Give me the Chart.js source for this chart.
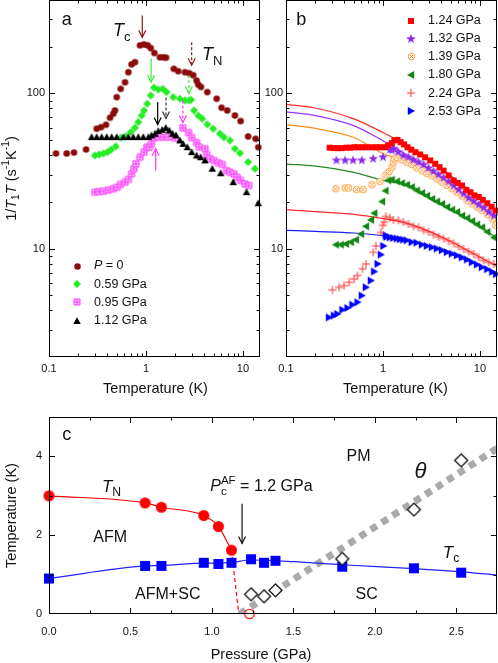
<!DOCTYPE html>
<html>
<head>
<meta charset="utf-8">
<script src="https://cdn.jsdelivr.net/npm/chart.js@4.4.1/dist/chart.umd.min.js"></script>
<style>
  html, body { margin: 0; padding: 0; background: #fff; }
  #wrap { position: relative; width: 498px; height: 663px; overflow: hidden; }
  canvas { position: absolute; }
</style>
</head>
<body>
<div id="wrap">
  <canvas id="ca" width="262" height="400" style="left:0;top:0"></canvas>
  <canvas id="cb" width="236" height="400" style="left:262px;top:0"></canvas>
  <canvas id="cc" width="498" height="263" style="left:0;top:400px"></canvas>
</div>
<script>
// ---- panel a : 1/T1T vs T, low pressures ----
const aP0T = [0.118, 0.152, 0.181, 0.241, 0.310, 0.344, 0.387, 0.426, 0.46, 0.479, 0.499, 0.548, 0.608, 0.658, 0.711, 0.77, 0.867, 0.954, 1.04, 1.12, 1.22, 1.39, 1.51, 1.61, 1.94, 2.15, 2.52, 2.79, 3.07, 3.33, 3.46, 3.69, 4.29, 5.36, 6.03, 6.89, 8.27, 9.46, 11.3, 13.5, 14.4];
const aP0V = [41, 41, 41.6, 43.5, 59.2, 60.6, 62.8, 69.7, 74, 77.6, 94.6, 107, 118, 137, 154, 159, 204, 207, 204, 196, 182, 171, 171, 170, 144, 139, 137, 135, 131, 121, 114, 110, 102, 92.4, 80.9, 77.6, 72.1, 66.3, 52.8, 51, 45];

const a059T = [0.298, 0.328, 0.363, 0.399, 0.436, 0.487, 0.548, 0.622, 0.695, 0.77, 0.833, 0.903, 0.954, 1.03, 1.12, 1.21, 1.34, 1.49, 1.63, 1.91, 2.24, 2.52, 2.77, 2.91, 3.13, 3.46, 3.8, 4.29, 4.94, 5.79, 6.37, 7.34, 8.27, 9.31, 11.3, 13.3];
const a059V = [39.8, 40.4, 41, 41.8, 43.4, 45.5, 51.8, 52.8, 56.3, 60.1, 65.3, 72.1, 77.6, 85.8, 97, 109, 106, 107, 102, 94.6, 92.4, 90.1, 90.1, 91, 77.6, 72.1, 68.7, 63.1, 59.2, 55, 52.2, 49.8, 44, 41.2, 36.1, 32.7];

const a095T = [0.298, 0.328, 0.363, 0.409, 0.46, 0.506, 0.548, 0.608, 0.658, 0.711, 0.752, 0.789, 0.867, 0.954, 1.02, 1.08, 1.14, 1.22, 1.35, 1.51, 1.7, 1.99, 2.4, 2.75, 2.96, 3.33, 3.53, 4.06, 4.23, 4.57, 5.02, 5.57, 6.12, 6.79, 7.34, 8.07, 8.73, 9.46, 10.5, 11.5];
const a095V = [23.1, 23.3, 23.4, 23.8, 24.3, 24.9, 25.9, 26.8, 27.9, 30.3, 32.7, 35.2, 38.8, 41.8, 45, 45, 47.3, 51.8, 52.3, 52.3, 52.3, 51.5, 60, 55.9, 51.9, 48.2, 45.2, 44, 40.3, 37.9, 37, 35.7, 34.8, 31.8, 31, 30.3, 28.8, 27.5, 26.1, 25.5];

const a112T = [0.275, 0.31, 0.349, 0.394, 0.443, 0.499, 0.584, 0.658, 0.74, 0.833, 0.938, 1.06, 1.14, 1.24, 1.34, 1.47, 1.6, 1.74, 1.88, 2.04, 2.24, 2.42, 2.67, 2.96, 3.33, 3.66, 4.06, 4.83, 5.89, 7.94, 10.9, 14.4];
const a112V = [52.3, 52.3, 52.3, 52.3, 52.3, 52.3, 52.3, 52.3, 52.3, 52.3, 52.3, 52.3, 53.6, 55, 57.2, 58.3, 60, 57.7, 55, 53.6, 49.8, 47.3, 45, 41.8, 39.8, 38.8, 37, 32.7, 30.6, 26.8, 23.1, 19.6];

// ---- panel b : higher pressures ----
const b124T = [0.282, 0.311, 0.339, 0.373, 0.421, 0.463, 0.505, 0.555, 0.611, 0.678, 0.764, 0.846, 0.931, 1.05, 1.13, 1.23, 1.31, 1.41, 1.52, 1.65, 1.79, 1.96, 2.16, 2.42, 2.72, 3.07, 3.46, 3.83, 4.22, 4.75, 5.36, 5.89, 6.54, 7.24, 7.97, 8.77, 9.72, 10.7, 11.9, 13.2, 14.5];
const b124V = [44.7, 44.4, 44.4, 44.4, 44.7, 44.7, 45, 45, 45, 45, 45, 45, 45, 45, 46.3, 47.8, 49.8, 50.2, 48.5, 46.9, 45, 43.4, 41.8, 40.4, 38.8, 37, 35.2, 33.5, 31.8, 29.6, 27.5, 26.5, 25.5, 23.9, 23.1, 22, 21.5, 20.6, 19.6, 18.6, 17.6];

const b132T = [0.331, 0.407, 0.492, 0.605, 0.793, 1.0, 1.18, 1.24, 1.30, 1.44, 1.62, 1.83, 2.06, 2.32, 2.62, 2.95, 3.32, 3.74, 4.22, 4.75, 5.36, 6.03, 6.79, 7.65, 8.62, 9.72, 10.9, 12.3, 13.9];
const b132V = [37, 37, 37, 37, 37.9, 38.8, 43.4, 43, 44, 41.8, 39.8, 38.8, 37.3, 36, 34.7, 33, 31.5, 30, 28.6, 27.1, 25.5, 24, 22.6, 21.2, 20.2, 19.2, 18.3, 17.2, 16.3];

const b139T = [0.326, 0.407, 0.441, 0.534, 0.625, 0.769, 0.931, 1.07, 1.16, 1.24, 1.28, 1.31, 1.39, 1.56, 1.76, 1.98, 2.23, 2.52, 2.84, 3.2, 3.6, 4.06, 4.57, 5.15, 5.8, 6.54, 7.37, 8.29, 9.34, 10.5, 11.9, 13.4, 14.5];
const b139V = [24.3, 24.6, 24.6, 24, 24, 25.8, 27.1, 29.8, 31.4, 33.5, 36, 37.9, 38.8, 37.3, 36, 34.8, 33.2, 31.8, 30.5, 29.4, 28.1, 26.8, 25.5, 24.3, 23.1, 21.8, 20.4, 19.4, 18.5, 17.6, 16.6, 15.5, 14.1];

const b180T = [0.326, 0.367, 0.414, 0.466, 0.525, 0.592, 0.667, 0.751, 0.813, 0.976, 1.06, 1.13, 1.23, 1.39, 1.56, 1.76, 1.98, 2.23, 2.52, 2.84, 3.2, 3.6, 4.06, 4.57, 5.15, 5.8, 6.54, 7.37, 8.29, 9.34, 10.5, 11.9, 13.9];
const b180V = [10.6, 10.6, 10.7, 11.0, 11.4, 12.4, 13.9, 15.3, 16.9, 20.1, 23.6, 27.5, 27.8, 27.1, 26.4, 25.8, 24.9, 23.7, 22.8, 21.9, 20.9, 20.1, 19.4, 18.5, 17.8, 17.2, 16.3, 15.7, 15, 14.3, 13.7, 12.8, 11.8];

const b224T = [0.301, 0.353, 0.397, 0.448, 0.504, 0.547, 0.616, 0.667, 0.794, 0.846, 0.953, 0.993, 1.03, 1.07, 1.18, 1.28, 1.44, 1.62, 1.83, 2.06, 2.32, 2.62, 2.95, 3.32, 3.74, 4.22, 4.75, 5.36, 6.03, 6.79, 7.65, 8.62, 9.72, 10.9, 12.3, 13.9];
const b224V = [5.42, 5.62, 5.77, 6.06, 6.37, 6.7, 7.4, 7.96, 9.46, 10.4, 12.7, 14.1, 14.8, 16.1, 15.8, 15.3, 15.2, 14.8, 14.4, 13.9, 13.7, 13.1, 12.8, 12.3, 11.9, 11.6, 11.2, 10.8, 10.3, 9.94, 9.56, 9.23, 8.78, 8.38, 8.16, 7.96];

const b253T = [0.278, 0.313, 0.339, 0.382, 0.431, 0.485, 0.547, 0.606, 0.667, 0.751, 0.813, 0.881, 0.953, 1.01, 1.07, 1.09, 1.18, 1.28, 1.39, 1.5, 1.62, 1.76, 1.98, 2.23, 2.52, 2.84, 3.2, 3.6, 4.06, 4.57, 5.15, 5.8, 6.54, 7.37, 8.29, 9.34, 10.5, 11.9, 13.4, 14.7];
const b253V = [3.6, 3.7, 3.79, 4.03, 4.14, 4.35, 4.51, 4.98, 5.63, 6.22, 7.11, 7.96, 9.14, 10.4, 12.2, 11.9, 11.8, 11.7, 11.6, 11.5, 11.4, 11.3, 11.0, 10.9, 10.6, 10.4, 10.2, 10.0, 9.76, 9.48, 9.26, 9.04, 8.76, 8.5, 8.16, 7.89, 7.58, 7.36, 7.07, 6.84];

// fit curves of panel b, read at these temperatures
const fitT = [0.1, 0.2, 0.5, 1, 1.5, 2, 3, 5, 10, 15];
const fit124 = [85, 80.5, 68.5, 56, 49, 44, 37.5, 29.5, 21, 17.6];
const fit132 = [76, 72, 62, 49.5, 42.5, 38, 32.5, 26, 19, 16];
const fit139 = [63, 59.5, 52, 41, 37.5, 34.5, 29.8, 24.4, 17.6, 14.8];
const fit180 = [35, 34, 31, 27.5, 26.3, 25, 21.5, 18, 14, 11.6];
const fit224 = [17.8, 17.3, 16.6, 15.6, 14.9, 14.2, 12.9, 11.1, 8.8, 7.7];
const fit253 = [13.1, 12.9, 12.6, 12.1, 11.6, 11.1, 10.3, 9.2, 7.7, 6.8];

// ---- panel c : phase diagram ----
const tnP = [0, 0.59, 0.69, 0.95, 1.04, 1.12];
const tnT = [3.0, 2.82, 2.71, 2.50, 2.22, 1.62];
const tnDashP = [1.12, 1.165];
const tnDashT = [1.62, 0];
const tnZeroP = [1.23];
const tnZeroT = [0];
const tcP = [0, 0.59, 0.69, 0.95, 1.04, 1.12, 1.24, 1.32, 1.39, 1.80, 2.24, 2.53];
const tcT = [0.90, 1.22, 1.22, 1.30, 1.27, 1.30, 1.39, 1.30, 1.35, 1.20, 1.16, 1.05];
const tcLineP = [0, 0.59, 0.69, 0.95, 1.04, 1.12, 1.24, 1.5, 1.8, 2.24, 2.53, 2.75];
const tcLineT = [0.90, 1.22, 1.23, 1.29, 1.29, 1.31, 1.37, 1.33, 1.25, 1.15, 1.07, 0.99];
const thetaP = [1.24, 1.32, 1.39, 1.80, 2.24, 2.53];
const thetaT = [0.5, 0.45, 0.6, 1.4, 2.65, 3.9];
const thetaLineP = [1.17, 2.75];
const thetaLineT = [0, 4.2];

const FONT = '"Liberation Sans", Arial, Helvetica, sans-serif';
Chart.defaults.font.family = FONT;
Chart.defaults.color = '#111';

// small canvases used as point markers (and legend symbols)
function marker(kind, size, fill, stroke, lw) {
  const n = Math.ceil(size) + 4;
  const c = document.createElement('canvas');
  c.width = n; c.height = n;
  const g = c.getContext('2d');
  const m = n / 2, r = size / 2;
  g.lineWidth = lw || 1;
  g.fillStyle = fill; g.strokeStyle = stroke || fill;
  g.beginPath();
  if (kind === 'circle') {
    g.arc(m, m, r, 0, Math.PI * 2);
  } else if (kind === 'square' || kind === 'hash') {
    g.rect(m - r, m - r, size, size);
  } else if (kind === 'diamond') {
    g.moveTo(m, m - r); g.lineTo(m + r, m); g.lineTo(m, m + r); g.lineTo(m - r, m); g.closePath();
  } else if (kind === 'triUp') {
    g.moveTo(m, m - r); g.lineTo(m + r, m + r * 0.8); g.lineTo(m - r, m + r * 0.8); g.closePath();
  } else if (kind === 'triLeft') {
    g.moveTo(m - r, m); g.lineTo(m + r * 0.8, m - r); g.lineTo(m + r * 0.8, m + r); g.closePath();
  } else if (kind === 'triRight') {
    g.moveTo(m + r, m); g.lineTo(m - r * 0.8, m - r); g.lineTo(m - r * 0.8, m + r); g.closePath();
  } else if (kind === 'star') {
    for (let i = 0; i < 10; i++) {
      const a = -Math.PI / 2 + i * Math.PI / 5, rr = i % 2 ? r * 0.42 : r;
      g.lineTo(m + rr * Math.cos(a), m + rr * Math.sin(a));
    }
    g.closePath();
  }
  if (kind === 'plus') {
    g.moveTo(m - r, m); g.lineTo(m + r, m); g.moveTo(m, m - r); g.lineTo(m, m + r);
    g.stroke();
  } else if (kind === 'circleX') {
    g.arc(m, m, r, 0, Math.PI * 2); g.fill(); g.stroke();
    const d = r * 0.6;
    g.beginPath();
    g.moveTo(m - d, m - d); g.lineTo(m + d, m + d); g.moveTo(m + d, m - d); g.lineTo(m - d, m + d);
    g.stroke();
  } else if (kind === 'hash') {
    g.fill(); g.stroke();
    g.beginPath();
    g.moveTo(m, m - r); g.lineTo(m, m + r); g.moveTo(m - r, m); g.lineTo(m + r, m);
    g.stroke();
  } else {
    g.fill();
    if (stroke) g.stroke();
  }
  return c;
}

const mkP0 = marker('circle', 6.5, '#8b0a0a');
const mk059 = marker('diamond', 8, '#22ee22');
const mk095 = marker('hash', 6, '#ffd0ff', '#ff33ff', 1);
const mk112 = marker('triUp', 7.5, '#000000');
const mk124 = marker('square', 6, '#ff0000');
const mk132 = marker('star', 10, '#8c2bea');
const mk139 = marker('circleX', 6.5, '#ffffff', '#ff9933', 1);
const mk180 = marker('triLeft', 8, '#118811');
const mk224 = marker('plus', 8, '#ff3333', '#ff3333', 1);
const mk253 = marker('triRight', 8, '#0000ff');
const mkTN = marker('circle', 11, '#ff0000');
const mkTN0 = marker('circle', 9.5, '#ffffff', '#ff0000', 1.2);
const mkTC = marker('square', 10, '#0000ff');
const mkTH = marker('diamond', 13, '#ffffff', '#000000', 1.2);

function pts(xs, ys) { return xs.map((v, i) => ({ x: v, y: ys[i] })); }
function dots(xs, ys, img, order) {
  return { data: pts(xs, ys), pointStyle: img, pointRadius: 5, showLine: false, clip: false, order: order || 0 };
}
function curve(xs, ys, color, width, extra) {
  return Object.assign({ data: pts(xs, ys), showLine: true, borderColor: color, borderWidth: width,
    pointRadius: 0, fill: false, cubicInterpolationMode: 'monotone', order: 5 }, extra || {});
}

function axis(type, min, max, labels, fmt, isX, size, pad) {
  return {
    type, min, max, position: isX ? 'bottom' : 'left',
    grid: { display: false, drawTicks: false }, border: { display: false },
    ticks: { autoSkip: false, maxRotation: 0, padding: pad, font: { size: 11 }, color: '#111', callback: fmt },
    afterBuildTicks: s => { s.ticks = labels.map(v => ({ value: v })); },
    afterFit: s => {
      if (isX) s.height = size; else s.width = size;
      s.paddingLeft = 0; s.paddingRight = 0; s.paddingTop = 0; s.paddingBottom = 0;
    }
  };
}

function logMinors(min, max) {
  const out = [];
  for (let d = 0.01; d < 5000; d *= 10) {
    for (let k = 2; k <= 9; k++) {
      const v = +(d * k).toPrecision(3);
      if (v > min && v < max) out.push(v);
    }
  }
  return out;
}

// rich text: segments of [text, flags]; i italic, b subscript, p superscript, n no advance
function segFont(f, size) {
  const s = (f.includes('b') || f.includes('p')) ? size * 0.72 : size;
  return (f.includes('i') ? 'italic ' : '') + s.toFixed(1) + 'px ' + FONT;
}
function richWidth(ctx, segs, size) {
  let w = 0;
  segs.forEach(([t, f = '']) => { ctx.font = segFont(f, size); if (!f.includes('n')) w += ctx.measureText(t).width; });
  return w;
}
function drawRich(ctx, segs, x, y, size, align) {
  const w = richWidth(ctx, segs, size);
  let cx = align === 'center' ? x - w / 2 : x;
  ctx.textAlign = 'left';
  segs.forEach(([t, f = '']) => {
    ctx.font = segFont(f, size);
    const dy = f.includes('b') ? size * 0.26 : (f.includes('p') ? -size * 0.4 : 0);
    ctx.fillText(t, cx, y + dy);
    if (!f.includes('n')) cx += ctx.measureText(t).width;
  });
}

const extras = {
  id: 'extras',
  afterDatasetsDraw(chart, args, o) {
    const { ctx, chartArea: a, scales: { x, y } } = chart;
    ctx.save();
    // inward ticks on all four sides, then the frame
    ctx.strokeStyle = '#000';
    ctx.lineWidth = 1;
    ctx.beginPath();
    const tx = (list, len) => list.forEach(v => {
      const p = Math.round(x.getPixelForValue(v)) + 0.5;
      ctx.moveTo(p, a.bottom); ctx.lineTo(p, a.bottom - len);
      ctx.moveTo(p, a.top); ctx.lineTo(p, a.top + len);
    });
    const ty = (list, len) => list.forEach(v => {
      const p = Math.round(y.getPixelForValue(v)) + 0.5;
      ctx.moveTo(a.left, p); ctx.lineTo(a.left + len, p);
      ctx.moveTo(a.right, p); ctx.lineTo(a.right - len, p);
    });
    tx(o.xMajor, 6); tx(o.xMinor, 3.5); ty(o.yMajor, 6); ty(o.yMinor, 3.5);
    ctx.stroke();
    ctx.strokeRect(a.left + 0.5, a.top + 0.5, a.right - a.left - 1, a.bottom - a.top - 1);

    // arrows
    (o.arrows || []).forEach(ar => {
      const px = x.getPixelForValue(ar.x), p1 = y.getPixelForValue(ar.y1), p2 = y.getPixelForValue(ar.y2);
      const dir = p2 > p1 ? 1 : -1;
      ctx.strokeStyle = ar.color; ctx.lineWidth = 1.2;
      ctx.setLineDash(ar.dash ? [3, 2] : []);
      ctx.beginPath(); ctx.moveTo(px, p1); ctx.lineTo(px, p2); ctx.stroke();
      ctx.setLineDash([]);
      ctx.beginPath();
      ctx.moveTo(px - 3.5, p2 - dir * 7); ctx.lineTo(px, p2); ctx.lineTo(px + 3.5, p2 - dir * 7);
      ctx.stroke();
    });

    // text labels in data coordinates
    ctx.fillStyle = '#111';
    (o.texts || []).forEach(t => {
      ctx.textBaseline = t.base || 'middle';
      drawRich(ctx, t.segs, x.getPixelForValue(t.x), y.getPixelForValue(t.y), t.size, t.align || 'left');
    });

    // legend
    if (o.legend) {
      const L = o.legend;
      L.items.forEach((it, i) => {
        const mx = a.left + L.dx, my = a.top + L.dy + i * L.step;
        ctx.drawImage(it.img, Math.round(mx - it.img.width / 2), Math.round(my - it.img.height / 2));
        ctx.textBaseline = 'middle';
        drawRich(ctx, it.segs, mx + 17, my, 12.5, 'left');
      });
    }

    // axis titles
    ctx.textBaseline = 'middle';
    if (o.xTitle) drawRich(ctx, o.xTitle, (a.left + a.right) / 2 + o.xTitleDx, o.xTitleY, 14.5, 'center');
    if (o.yTitle) {
      ctx.translate(12, (a.top + a.bottom) / 2);
      ctx.rotate(-Math.PI / 2);
      drawRich(ctx, o.yTitle, 0, 0, 14.5, 'center');
    }
    ctx.restore();
  }
};
Chart.register(extras);

const tempTitle = [['Temperature (K)']];
const fmtLog = v => String(v);

function baseOptions(scales, extraOpts) {
  return {
    responsive: false, animation: false, devicePixelRatio: 1, events: [],
    layout: { padding: extraOpts.padding, autoPadding: false },
    plugins: { legend: { display: false }, tooltip: { enabled: false }, extras: extraOpts.extras },
    scales
  };
}

// ---------- chart a ----------
new Chart(document.getElementById('ca'), {
  type: 'scatter',
  data: {
    datasets: [
      dots(a112T, a112V, mk112, 1),
      dots(a095T, a095V, mk095, 2),
      dots(a059T, a059V, mk059, 3),
      dots(aP0T, aP0V, mkP0, 4)
    ]
  },
  options: baseOptions({
    x: axis('logarithmic', 0.1, 15, [0.1, 1, 10], fmtLog, true, 43, 5),
    y: axis('logarithmic', 2, 400, [10, 100], fmtLog, false, 49, 4)
  }, {
    padding: { left: 0, top: 0, right: 2, bottom: 0 },
    extras: {
      xMajor: [1, 10], xMinor: logMinors(0.1, 15), yMajor: [10, 100], yMinor: logMinors(2, 400),
      arrows: [
        { x: 0.916, y1: 318, y2: 230, color: '#8b1a1a', dash: false },
        { x: 2.96, y1: 214, y2: 152, color: '#8b1a1a', dash: true },
        { x: 1.13, y1: 168, y2: 118, color: '#33ee33', dash: false },
        { x: 2.77, y1: 131, y2: 100, color: '#33ee33', dash: true },
        { x: 1.32, y1: 88, y2: 63, color: '#000000', dash: false },
        { x: 1.61, y1: 94, y2: 69, color: '#333333', dash: true },
        { x: 2.40, y1: 90, y2: 65, color: '#ff33ff', dash: true },
        { x: 1.26, y1: 31.8, y2: 44, color: '#ff33ff', dash: false }
      ],
      texts: [
        { x: 0.152, y: 296, segs: [['a']], size: 18, align: 'center' },
        { x: 0.457, y: 233, segs: [['T', 'i'], ['c', 'b']], size: 18, base: 'alphabetic' },
        { x: 3.78, y: 163, segs: [['T', 'i'], ['N', 'b']], size: 18, base: 'alphabetic' }
      ],
      legend: {
        dx: 28, dy: 266, step: 18.2,
        items: [
          { img: mkP0, segs: [['P', 'i'], [' = 0']] },
          { img: mk059, segs: [['0.59 GPa']] },
          { img: mk095, segs: [['0.95 GPa']] },
          { img: mk112, segs: [['1.12 GPa']] }
        ]
      },
      xTitle: tempTitle, xTitleDx: 1, xTitleY: 389,
      yTitle: [['1/'], ['T', 'i'], ['1', 'b'], ['T', 'i'], [' (s'], ['-1', 'p'], ['K'], ['-1', 'p'], [')']]
    }
  })
});

// ---------- chart b ----------
new Chart(document.getElementById('cb'), {
  type: 'scatter',
  data: {
    datasets: [
      dots(b124T, b124V, mk124, 1),
      dots(b132T, b132V, mk132, 2),
      dots(b139T, b139V, mk139, 3),
      dots(b180T, b180V, mk180, 1),
      dots(b224T, b224V, mk224, 1),
      dots(b253T, b253V, mk253, 1),
      curve(fitT, fit124, '#ff2a2a', 1.2),
      curve(fitT, fit132, '#9933ff', 1.2),
      curve(fitT, fit139, '#ff8c1a', 1.2),
      curve(fitT, fit180, '#228b22', 1.2),
      curve(fitT, fit224, '#ff2a2a', 1.2),
      curve(fitT, fit253, '#1a1aff', 1.2)
    ]
  },
  options: baseOptions({
    x: axis('logarithmic', 0.1, 15, [0.1, 1, 10], fmtLog, true, 43, 5),
    y: axis('logarithmic', 2, 400, [10, 100], fmtLog, false, 24, 3)
  }, {
    padding: { left: 0, top: 0, right: 1, bottom: 0 },
    extras: {
      xMajor: [1, 10], xMinor: logMinors(0.1, 15), yMajor: [10, 100], yMinor: logMinors(2, 400),
      texts: [
        { x: 0.144, y: 296, segs: [['b']], size: 18, align: 'center' }
      ],
      legend: {
        dx: 125, dy: 20.7, step: 18.1,
        items: [
          { img: mk124, segs: [['1.24 GPa']] },
          { img: mk132, segs: [['1.32 GPa']] },
          { img: mk139, segs: [['1.39 GPa']] },
          { img: mk180, segs: [['1.80 GPa']] },
          { img: mk224, segs: [['2.24 GPa']] },
          { img: mk253, segs: [['2.53 GPa']] }
        ]
      },
      xTitle: tempTitle, xTitleDx: 4, xTitleY: 389
    }
  })
});

// ---------- chart c ----------
new Chart(document.getElementById('cc'), {
  type: 'scatter',
  data: {
    datasets: [
      dots(thetaP, thetaT, mkTH, 1),
      dots(tnP, tnT, mkTN, 1),
      dots(tcP, tcT, mkTC, 1),
      dots(tnZeroP, tnZeroT, mkTN0, 1),
      curve(tnP, tnT, '#ff0000', 1.2, { order: 4 }),
      curve(tnDashP, tnDashT, '#ff0000', 1.2, { borderDash: [4, 3], order: 4 }),
      curve(tcLineP, tcLineT, '#2222ff', 1.2, { order: 4 }),
      curve(thetaLineP, thetaLineT, '#aaaaaa', 7, { borderDash: [7, 6], borderCapStyle: 'butt', order: 6 })
    ]
  },
  options: baseOptions({
    x: axis('linear', 0, 2.75, [0, 0.5, 1, 1.5, 2, 2.5], v => v.toFixed(1), true, 49, 11),
    y: axis('linear', 0, 5, [0, 2, 4], v => String(v), false, 49, 7)
  }, {
    padding: { left: 0, top: 17, right: 1, bottom: 0 },
    extras: {
      xMajor: [0.5, 1, 1.5, 2, 2.5], xMinor: [0.25, 0.75, 1.25, 1.75, 2.25],
      yMajor: [2, 4], yMinor: [1, 3],
      arrows: [{ x: 1.185, y1: 2.8, y2: 1.79, color: '#111111', dash: false }],
      texts: [
        { x: 0.109, y: 4.53, segs: [['c']], size: 18, align: 'center' },
        { x: 0.325, y: 3.1, segs: [['T', 'i'], ['N', 'b']], size: 17, base: 'alphabetic' },
        { x: 0.375, y: 1.95, segs: [['AFM']], size: 16, align: 'center' },
        { x: 0.729, y: 0.49, segs: [['AFM+SC']], size: 16, align: 'center' },
        { x: 0.99, y: 3.13, segs: [['P', 'i'], ['c', 'bn'], ['AF', 'p'], [' = 1.2 GPa']], size: 16, base: 'alphabetic' },
        { x: 1.90, y: 4.0, segs: [['PM']], size: 16, align: 'center' },
        { x: 2.28, y: 3.6, segs: [['θ', 'i']], size: 22, align: 'center' },
        { x: 2.417, y: 1.43, segs: [['T', 'i'], ['c', 'b']], size: 17, base: 'alphabetic' },
        { x: 1.95, y: 0.49, segs: [['SC']], size: 16, align: 'center' }
      ],
      xTitle: [['Pressure (GPa)']], xTitleDx: -12, xTitleY: 255,
      yTitle: tempTitle
    }
  })
});
</script>
</body>
</html>
